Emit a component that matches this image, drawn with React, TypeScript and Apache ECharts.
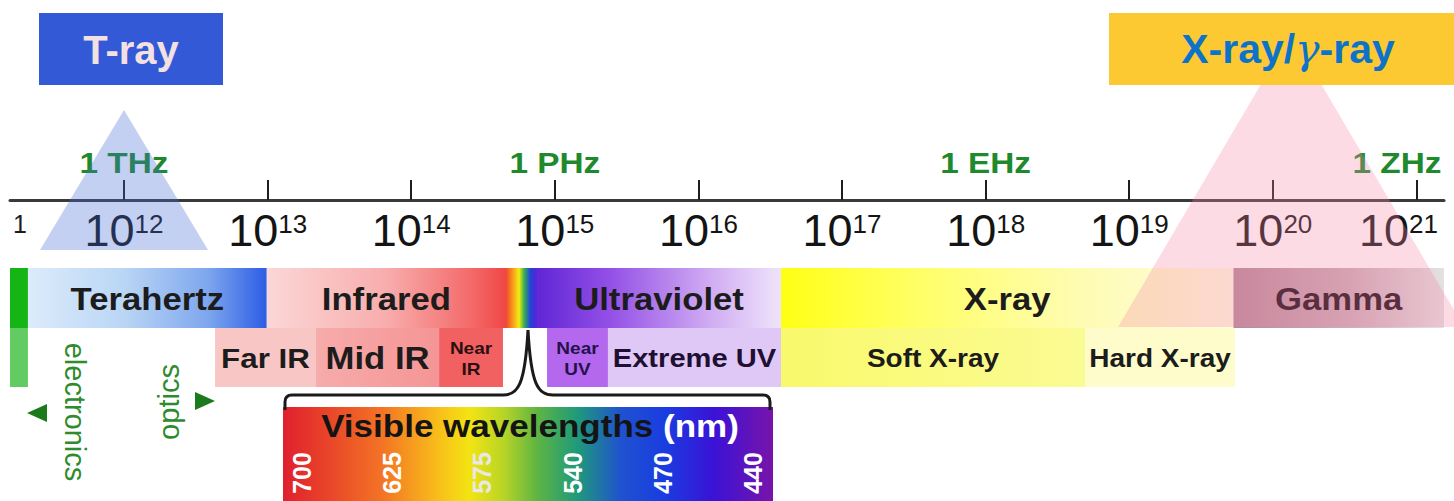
import React, { useEffect, useRef } from 'react';
import * as echarts from 'echarts';

// ---------------- data ----------------
const AXIS_MIN_EXP = 11.206;
const AXIS_MAX_EXP = 21.192;
const tickExponents = [12, 13, 14, 15, 16, 17, 18, 19, 20, 21];
const namedFreqExponents = [12, 15, 18, 21];
const namedFreqLabels = ['1 THz', '1 PHz', '1 EHz', '1 ZHz'];

const bandNames = ['', 'Terahertz', 'Infrared', '', 'Ultraviolet', 'X-ray', 'Gamma'];
const bandStartExp = [11.206, 11.331, 12.994, 14.66, 14.876, 16.575, 19.726];
const bandEndExp = [11.331, 12.994, 14.66, 14.876, 16.575, 19.726, 21.192];

const subBandNames = ['', 'Far IR', 'Mid IR', 'Near\nIR', 'Near\nUV', 'Extreme UV', 'Soft X-ray', 'Hard X-ray'];
const subBandStartExp = [11.206, 12.634, 13.337, 14.194, 14.946, 15.37, 16.575, 18.692];
const subBandEndExp = [11.331, 13.337, 14.194, 14.639, 15.37, 16.575, 18.692, 19.737];

const rayNames = ['T-ray', 'X-ray/γ-ray'];
const rayCenterExp = [12, 20.127];

const visibleTitle = 'Visible wavelengths';
const visibleUnit = '(nm)';
const visibleWavelengths = ['700', '625', '575', '540', '470', '440'];
const sideNotes = ['electronics', 'optics'];

// ---------------- layout & style ----------------
const W = 1454;
const H = 501;
const AXIS_Y = 200;
const ROW1 = [268, 328];
const ROW2 = [328, 387];
const FREQ_LABEL_Y = 163;
const FREQ_LABEL_HALF = 47;
const WL_LABEL_Y = 473;
const SX = 1.12;
const FONT = '"Liberation Sans", Arial, Helvetica, sans-serif';

const lg = (stops: [number, string][]) =>
  new echarts.graphic.LinearGradient(0, 0, 1, 0, stops.map(([offset, color]) => ({ offset, color })));

const bandFills: any[] = [
  '#16b516',
  lg([[0, '#dcebfb'], [0.4, '#bad6f5'], [0.75, '#7fa7ee'], [1, '#2c5de4']]),
  lg([[0, '#fbd7d7'], [0.5, '#f8adad'], [0.85, '#f46b6b'], [1, '#f04646']]),
  lg([[0, '#f04a2a'], [0.22, '#f79a1c'], [0.42, '#f5ec12'], [0.58, '#3db34a'], [0.78, '#1f45d9'], [1, '#5a22d6']]),
  lg([[0, '#6026d6'], [0.3, '#9450e6'], [0.7, '#cfaaf2'], [1, '#efe4fb']]),
  lg([[0, '#ffff14'], [0.3, '#ffff66'], [0.65, '#fefcb0'], [1, '#fffce2']]),
  lg([[0, '#b58898'], [0.55, '#cbaeb8'], [1, '#e4e1e2']]),
];
const subBandFills: any[] = [
  '#62cc62',
  '#f9c6c6',
  lg([[0, '#f7abab'], [1, '#f59595']]),
  '#f26161',
  '#b468ee',
  '#dfc8f6',
  lg([[0, '#f9f96c'], [1, '#fbfb94']]),
  '#fdfcca',
];
const bandFontSize = 31;
const bandTextColors = ['#1c1c1c', '#1c1c1c', '#1c1c1c', '#1c1c1c', '#1c1c1c', '#1c1c1c', '#160810'];
const subBandFontSizes = [0, 28, 31, 17, 17, 26, 25, 25];
const subBandTextColors = ['#1c1c1c', '#1c1c1c', '#1c1c1c', '#2a1010', '#24124a', '#1f1033', '#1c1c1c', '#1c1c1c'];

const rayApexY = [110, 33];
const rayBaseY = [250, 327];
const rayHalfBase = [84, 173];
const rayFills = ['rgba(70,110,210,0.32)', 'rgba(245,135,170,0.3)'];
const rayBoxes = [
  { x: 39, y: 13, w: 184, h: 72, fill: '#3359d6', color: '#f3e0e0' },
  { x: 1109, y: 13, w: 345, h: 72, fill: '#fdc933', color: '#0d73c9' },
];

const INSET = { x: 283, y: 407, w: 490, h: 94 };
const insetFill = new echarts.graphic.LinearGradient(0, 0, 1, 0, [
  { offset: 0, color: '#e01f2d' },
  { offset: 0.2, color: '#f37225' },
  { offset: 0.32, color: '#f8c01a' },
  { offset: 0.38, color: '#f3e412' },
  { offset: 0.45, color: '#b8d526' },
  { offset: 0.52, color: '#5db443' },
  { offset: 0.6, color: '#1f9a7a' },
  { offset: 0.69, color: '#1f52d0' },
  { offset: 0.78, color: '#1a3ce0' },
  { offset: 0.88, color: '#3b12d6' },
  { offset: 1, color: '#7814aa' },
]);

const BRACE_D =
  'M285 410 L285 402 Q285 395 292 395 L503 395 C518 395 525 385 528 330 C531 385 538 395 553 395 L763 395 Q770 395 770 402 L770 410';
echarts.graphic.registerShape('spectrumBrace', echarts.graphic.extendPath(BRACE_D, {}));

const txt = (text: string, fontSize: number, fill: string, weight: string = 'bold', extra: any = {}) => ({
  text,
  fontSize,
  fontWeight: weight,
  fontFamily: FONT,
  fill,
  align: 'center',
  verticalAlign: 'middle',
  textAlign: 'center',
  textVerticalAlign: 'middle',
  ...extra,
});

function rectRender(rows: number[], fills: any[]) {
  return (params: any, api: any) => {
    const i = params.dataIndex;
    const a = api.coord([api.value(0), rows[0]]);
    const b = api.coord([api.value(1), rows[1]]);
    return {
      type: 'rect',
      shape: { x: a[0], y: a[1], width: b[0] - a[0], height: b[1] - a[1] },
      style: { fill: fills[i] },
    };
  };
}

function labelRender(rows: number[], names: string[], sizes: (i: number) => number, colors: (i: number) => string) {
  return (params: any, api: any) => {
    const i = params.dataIndex;
    if (!names[i]) return null;
    const mid = (api.value(0) + api.value(1)) / 2;
    const p = api.coord([mid, (rows[0] + rows[1]) / 2]);
    return {
      type: 'text',
      x: p[0],
      y: p[1] + 1,
      scaleX: SX,
      style: txt(names[i], sizes(i), colors(i), 'bold', { lineHeight: Math.round(sizes(i) * 1.25) }),
    };
  };
}

function buildOption(): any {
  const xRayParts = rayNames[1].split('γ');
  return {
    animation: false,
    backgroundColor: '#ffffff',
    grid: [
      { left: 10, right: 10, top: 0, bottom: 0, containLabel: false, outerBoundsMode: 'none' },
      { left: 302, right: W - 753, top: 0, bottom: 0, containLabel: false, outerBoundsMode: 'none' },
    ],
    xAxis: [
      {
        type: 'value',
        gridIndex: 0,
        z: 4,
        min: AXIS_MIN_EXP,
        max: AXIS_MAX_EXP,
        position: 'top',
        offset: -AXIS_Y,
        axisLine: { show: true, onZero: false, lineStyle: { color: '#3a3a3a', width: 3 } },
        axisTick: { show: true, customValues: tickExponents, length: 20, lineStyle: { color: '#1e1e1e', width: 2 } },
        axisLabel: {
          show: true,
          customValues: tickExponents,
          inside: true,
          margin: 8,
          formatter: (v: number) =>
            v === tickExponents[tickExponents.length - 1] ? `{b|10}{s|${v}}{p| }` : `{b|10}{s|${v}}`,
          rich: {
            b: { fontSize: 45, lineHeight: 45, fontFamily: FONT, color: '#141414' },
            s: { fontSize: 26, fontFamily: FONT, color: '#141414', padding: [0, 0, 14, 0] },
            p: { width: 36, fontSize: 10 },
          },
        },
        splitLine: { show: false },
      },
      { type: 'category', gridIndex: 1, data: visibleWavelengths, boundaryGap: false, show: false },
    ],
    yAxis: [
      { type: 'value', gridIndex: 0, min: 0, max: H, inverse: true, show: false },
      { type: 'value', gridIndex: 1, min: 0, max: H, inverse: true, show: false },
    ],
    series: [
      {
        type: 'custom',
        name: 'bands',
        xAxisIndex: 0,
        yAxisIndex: 0,
        z: 1,
        silent: true,
        data: bandStartExp.map((s, i) => [s, bandEndExp[i]]),
        renderItem: rectRender(ROW1, bandFills),
      },
      {
        type: 'custom',
        name: 'subBands',
        xAxisIndex: 0,
        yAxisIndex: 0,
        z: 1,
        silent: true,
        data: subBandStartExp.map((s, i) => [s, subBandEndExp[i]]),
        renderItem: rectRender(ROW2, subBandFills),
      },
      {
        type: 'custom',
        name: 'bandLabels',
        xAxisIndex: 0,
        yAxisIndex: 0,
        z: 3,
        silent: true,
        data: bandStartExp.map((s, i) => [s, bandEndExp[i]]),
        renderItem: labelRender(ROW1, bandNames, () => bandFontSize, (i) => bandTextColors[i]),
      },
      {
        type: 'custom',
        name: 'subBandLabels',
        xAxisIndex: 0,
        yAxisIndex: 0,
        z: 3,
        silent: true,
        data: subBandStartExp.map((s, i) => [s, subBandEndExp[i]]),
        renderItem: labelRender(ROW2, subBandNames, (i) => subBandFontSizes[i], (i) => subBandTextColors[i]),
      },
      {
        type: 'custom',
        name: 'namedFrequencies',
        xAxisIndex: 0,
        yAxisIndex: 0,
        z: 3,
        silent: true,
        data: namedFreqExponents.map((e) => [e, 0]),
        renderItem: (params: any, api: any) => {
          const i = params.dataIndex;
          const p = api.coord([api.value(0), FREQ_LABEL_Y]);
          const right = params.coordSys.x + params.coordSys.width;
          return {
            type: 'text',
            x: Math.min(p[0], right - FREQ_LABEL_HALF),
            y: p[1],
            scaleX: 1.15,
            style: txt(namedFreqLabels[i], 29, '#1f8a2d'),
          };
        },
      },
      {
        type: 'custom',
        name: 'rays',
        xAxisIndex: 0,
        yAxisIndex: 0,
        z: 8,
        silent: true,
        data: rayCenterExp.map((e) => [e, 0]),
        renderItem: (params: any, api: any) => {
          const i = params.dataIndex;
          const apex = api.coord([api.value(0), rayApexY[i]]);
          const base = api.coord([api.value(0), rayBaseY[i]]);
          return {
            type: 'polygon',
            shape: {
              points: [
                [apex[0], apex[1]],
                [base[0] - rayHalfBase[i], base[1]],
                [base[0] + rayHalfBase[i], base[1]],
              ],
            },
            style: { fill: rayFills[i] },
          };
        },
      },
      {
        type: 'custom',
        name: 'wavelengths',
        xAxisIndex: 1,
        yAxisIndex: 1,
        z: 3,
        silent: true,
        data: visibleWavelengths.map((w, i) => [i, 0]),
        renderItem: (params: any, api: any) => {
          const i = params.dataIndex;
          const p = api.coord([api.value(0), WL_LABEL_Y]);
          return {
            type: 'text',
            x: p[0],
            y: p[1],
            rotation: Math.PI / 2,
            style: txt(visibleWavelengths[i], 25, i === 2 ? '#e8e8e8' : '#ffffff'),
          };
        },
      },
    ],
    graphic: [
      // ray title boxes (drawn above the translucent ray triangles)
      { type: 'rect', z: 9, silent: true, shape: { x: rayBoxes[0].x, y: rayBoxes[0].y, width: rayBoxes[0].w, height: rayBoxes[0].h }, style: { fill: rayBoxes[0].fill } },
      { type: 'rect', z: 9, silent: true, shape: { x: rayBoxes[1].x, y: rayBoxes[1].y, width: rayBoxes[1].w, height: rayBoxes[1].h }, style: { fill: rayBoxes[1].fill } },
      { type: 'text', z: 10, silent: true, x: 131, y: 50, style: txt(rayNames[0], 40, rayBoxes[0].color) },
      {
        type: 'text',
        z: 10,
        silent: true,
        x: 1288,
        y: 49,
        style: {
          text: `{a|${xRayParts[0]}}{g|γ}{a|${xRayParts[1]}}`,
          align: 'center',
          verticalAlign: 'middle',
          textAlign: 'center',
          textVerticalAlign: 'middle',
          rich: {
            a: { fontSize: 41, fontWeight: 'bold', fontFamily: FONT, fill: rayBoxes[1].color },
            g: { fontSize: 41, fontStyle: 'italic', fontFamily: '"DejaVu Serif", serif', fill: rayBoxes[1].color },
          },
        },
      },
      // partial cut-off label at the left edge
      { type: 'text', z: 5, silent: true, x: 20, y: 224, style: txt('1', 25, '#1c1c1c', 'normal') },
      // electronics / optics
      { type: 'text', z: 5, silent: true, x: 75, y: 412, rotation: -Math.PI / 2, style: txt(sideNotes[0], 29, '#2e8b2e', 'normal') },
      { type: 'text', z: 5, silent: true, x: 169, y: 402, rotation: Math.PI / 2, style: txt(sideNotes[1], 29, '#2e8b2e', 'normal') },
      { type: 'polygon', z: 5, silent: true, shape: { points: [[27, 413], [47, 404], [47, 422]] }, style: { fill: '#1b7a1b' } },
      { type: 'polygon', z: 5, silent: true, shape: { points: [[215, 401], [195, 392], [195, 410]] }, style: { fill: '#1b7a1b' } },
      // brace + visible inset
      { type: 'spectrumBrace', z: 4, silent: true, x: 0, y: 0, style: { stroke: '#1a1a1a', lineWidth: 3, fill: 'none' } },
      { type: 'rect', z: 0, silent: true, shape: { x: INSET.x, y: INSET.y, width: INSET.w, height: INSET.h }, style: { fill: insetFill } },
      {
        type: 'text',
        z: 5,
        silent: true,
        x: 530,
        y: 426,
        scaleX: 1.13,
        style: {
          text: `{d|${visibleTitle} }{w|${visibleUnit}}`,
          align: 'center',
          verticalAlign: 'middle',
          textAlign: 'center',
          textVerticalAlign: 'middle',
          rich: {
            d: { fontSize: 31, fontWeight: 'bold', fontFamily: FONT, fill: '#141414' },
            w: { fontSize: 31, fontWeight: 'bold', fontFamily: FONT, fill: '#ffffff' },
          },
        },
      },
    ],
  };
}

export default function App() {
  const ref = useRef<HTMLDivElement>(null);
  useEffect(() => {
    if (!ref.current) return;
    const chart = echarts.init(ref.current, null, { renderer: 'svg' });
    chart.setOption(buildOption());
    return () => {
      chart.dispose();
    };
  }, []);
  return (
    <div
      ref={ref}
      style={{ position: 'fixed', left: 0, top: 0, width: W, height: H, background: '#ffffff' }}
    />
  );
}
